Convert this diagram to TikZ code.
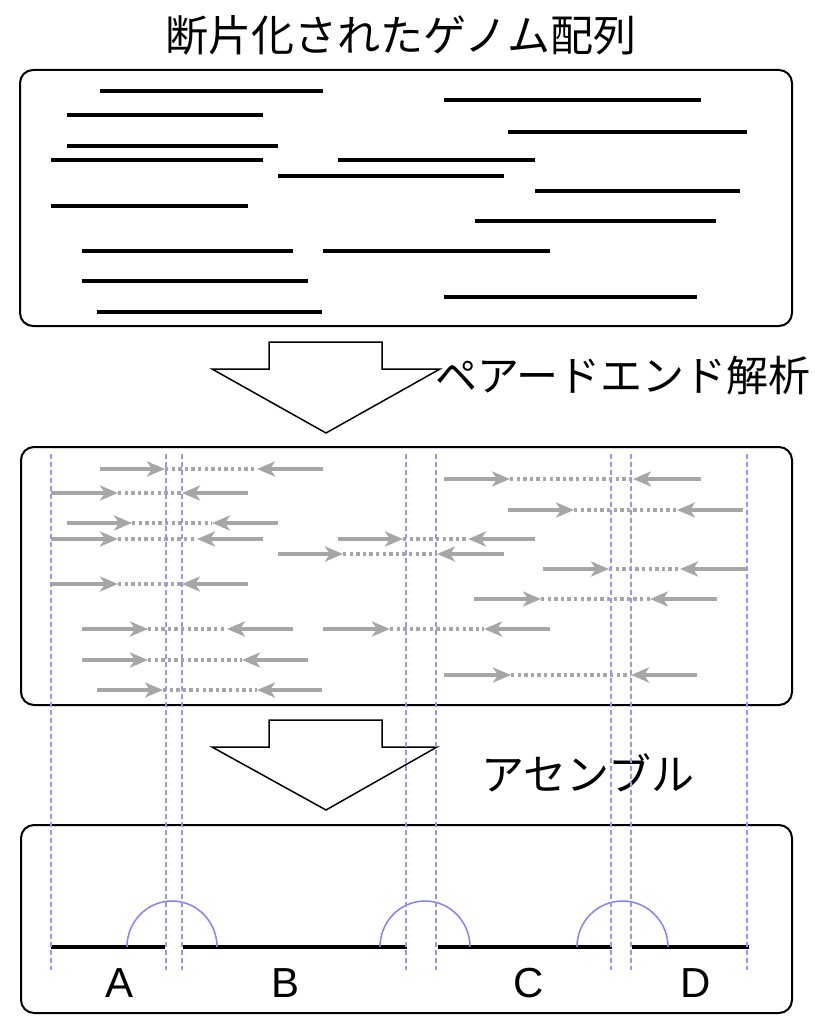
\documentclass[tikz,border=0pt]{standalone}
\usepackage{fontspec}
\setmainfont{Liberation Sans}
\newfontfamily\jp{Noto Sans CJK JP}
\usetikzlibrary{arrows.meta}
\definecolor{readgray}{RGB}{166,166,166}
\definecolor{linkblue}{RGB}{130,130,255}
\definecolor{guideblue}{RGB}{150,150,255}
\newcommand\readpair[5]{%
  \draw[readgap] (#3,#1) -- (#4,#1);
  \draw[readarrow] (#2,#1) -- (#3,#1);
  \draw[readarrow] (#5,#1) -- (#4,#1);}
\tikzset{
  panel/.style={draw=black, line width=2pt, rounded corners=13pt, inner sep=0pt, outer sep=0pt, fill=white},
  frag/.style={line width=3.6pt, black},
  readarrow/.style={line width=4pt, readgray, -{Stealth[length=18pt, width=15pt, inset=5pt]}},
  readgap/.style={line width=3.8pt, readgray, dash pattern=on 3.4pt off 3.2pt},
  bigarrow/.style={draw=black, line width=1.5pt, fill=white, line join=miter},
  guide/.style={guideblue, line width=1.1pt, dash pattern=on 5pt off 3pt},
  contig/.style={line width=4pt, black},
  link/.style={linkblue, line width=1.5pt},
  jlabel/.style={font=\jp\fontsize{43}{48}\selectfont, inner sep=0pt},
  letter/.style={font=\fontsize{42}{48}\selectfont, inner sep=0pt}
}
\begin{document}
\begin{tikzpicture}[x=1pt, y=-1pt]
\fill[white] (0,0) rectangle (814,1019);
\useasboundingbox (0,0) rectangle (814,1019);

% title
\node[jlabel] (title) at (401,35) {断片化されたゲノム配列};

% top panel
\node[panel, minimum width=772pt, minimum height=256pt] (fragbox) at (406,198) {};
\foreach \y/\a/\b in {91/100/323, 100/444/701, 115/67/263, 132/508/747, 146/67/278,
  160/51/263, 160/338/535, 176/278/504, 191/535/740, 206/51/248, 221/475/716,
  251/82/293, 251/323/550, 281/82/308, 297/444/697, 312/97/322}
  \draw[frag] (\a,\y) -- (\b,\y);

% first big arrow
\draw[bigarrow] (269,342) -- (382,342) -- (382,369) -- (440,369) -- (326,433) -- (212,369) -- (269,369) -- cycle;
\node[jlabel, font=\jp\fontsize{42}{48}\selectfont] (pe) at (623,376) {ペアードエンド解析};

% middle panel
\node[panel, minimum width=771pt, minimum height=258pt] (pairbox) at (406.5,576) {};
\readpair{469}{100}{165}{257}{323}
\readpair{479}{444}{510}{633}{701}
\readpair{493}{51}{118}{182}{248}
\readpair{510}{508}{574}{677}{743}
\readpair{523}{67}{132}{212}{278}
\readpair{539}{51}{118}{197}{263}
\readpair{539}{338}{403}{468}{535}
\readpair{554}{278}{343}{437}{504}
\readpair{569}{543}{609}{680}{746}
\readpair{584}{51}{118}{182}{248}
\readpair{599}{474}{541}{650}{717}
\readpair{629}{82}{148}{227}{293}
\readpair{629}{323}{390}{484}{550}
\readpair{660}{82}{148}{242}{308}
\readpair{675}{444}{511}{631}{697}
\readpair{690}{97}{163}{257}{322}

% second big arrow
\draw[bigarrow] (269,720) -- (382,720) -- (382,747) -- (437,747) -- (326,810) -- (212,747) -- (269,747) -- cycle;
\node[jlabel] (asmlabel) at (588,773) {アセンブル};

% bottom panel
\node[panel, minimum width=771pt, minimum height=188pt] (asmbox) at (406.5,919) {};

% contigs
\draw[contig] (51,947) -- (165,947);
\draw[contig] (183,947) -- (407,947);
\draw[contig] (438,947) -- (612,947);
\draw[contig] (632,947) -- (749,947);

% links
\draw[link] (127,947) arc[start angle=180, end angle=0, x radius=45pt, y radius=46pt];
\draw[link] (380,947) arc[start angle=180, end angle=0, x radius=45pt, y radius=46pt];
\draw[link] (577,947) arc[start angle=180, end angle=0, x radius=45.5pt, y radius=46pt];

% labels
\node[letter] (A) at (120,983) {A};
\node[letter] (B) at (286,983) {B};
\node[letter] (C) at (529,983) {C};
\node[letter] (D) at (696,983) {D};

% guide lines
\foreach \x in {51,166,182,406,436,611,631,747}
  \draw[guide] (\x,454) -- (\x,970);
\end{tikzpicture}
\end{document}
